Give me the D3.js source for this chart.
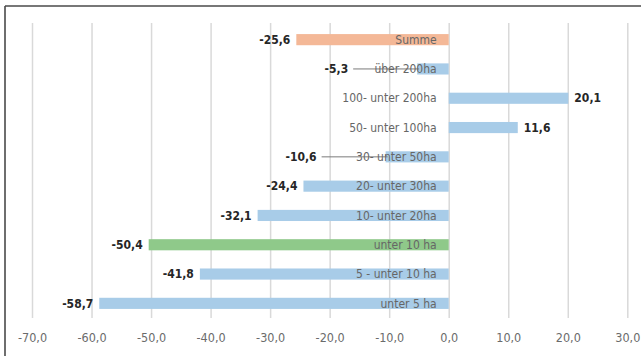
<!DOCTYPE html>
<html><head><meta charset="utf-8">
<script src="https://cdn.jsdelivr.net/npm/d3@7"></script>
<style>
html,body{margin:0;padding:0;background:#fff;}
svg{display:block;}
text{font-family:"DejaVu Sans Condensed","Liberation Sans",sans-serif;}
</style></head><body>
<svg id="c" width="641" height="356"></svg>
<script>
const categories = ["Summe","über 200ha","100- unter 200ha","50- unter 100ha","30- unter 50ha","20- unter 30ha","10- unter 20ha","unter 10 ha","5 - unter 10 ha","unter 5 ha"];
const values = [-25.6,-5.3,20.1,11.6,-10.6,-24.4,-32.1,-50.4,-41.8,-58.7];
const groups = ["sum","blue","blue","blue","blue","blue","blue","green","blue","blue"];
const tickValues = [-70,-60,-50,-40,-30,-20,-10,0,10,20,30];
const leaderCats = ["über 200ha","30- unter 50ha"];
const colors = {sum:"#f4b897", blue:"#a8cce8", green:"#8fc98a"};

const svg = d3.select("#c");
const fmt = v => d3.format(".1f")(v).replace("−","-").replace(".", ",");

const x = d3.scaleLinear().domain([-70,30]).range([32,627.3]);
const y = d3.scaleBand().domain(categories).range([25,318]).paddingInner(0.62).paddingOuter(0.31);

// frame
svg.append("line").attr("x1",5).attr("x2",641).attr("y1",6).attr("y2",6).attr("stroke","#4a4a4a").attr("stroke-width",1.6);
svg.append("line").attr("x1",5).attr("x2",5).attr("y1",6).attr("y2",356).attr("stroke","#4a4a4a").attr("stroke-width",1.6);

// grid
const axis = d3.axisBottom(x).tickValues(tickValues).tickSize(-(318-23)).tickPadding(15).tickFormat(fmt);
const ag = svg.append("g").attr("transform","translate(0,318)").call(axis);
ag.select(".domain").remove();
ag.selectAll(".tick line").attr("stroke","#d9d9d9").attr("stroke-width",1.5);
ag.selectAll(".tick text").attr("fill","#6b6b6b").attr("font-size",12.5).attr("font-family","'DejaVu Sans Condensed',sans-serif");

// bars
svg.selectAll("rect.bar").data(categories).join("rect")
  .attr("x",(d,i)=>x(Math.min(0,values[i])))
  .attr("width",(d,i)=>Math.abs(x(values[i])-x(0)))
  .attr("y",d=>y(d)).attr("height",y.bandwidth())
  .attr("fill",(d,i)=>colors[groups[i]]);

// leader lines
categories.forEach((c,i)=>{
  if(leaderCats.includes(c)){
    svg.append("line")
      .attr("x1",x(values[i])-64).attr("x2",x(values[i])+2)
      .attr("y1",y(c)+y.bandwidth()/2).attr("y2",y(c)+y.bandwidth()/2)
      .attr("stroke","#7a7a7a").attr("stroke-width",1);
  }
});

// category labels
svg.selectAll("text.cat").data(categories).join("text")
  .attr("x",x(0)-12).attr("y",d=>y(d)+y.bandwidth()/2+4.2)
  .attr("text-anchor","end").attr("font-size",12).attr("fill","#666")
  .text(d=>d);

// value labels
svg.selectAll("text.val").data(categories).join("text")
  .attr("x",(d,i)=>{
    const v=values[i];
    if(v>=0) return x(v)+6;
    return leaderCats.includes(d) ? x(v)-69 : x(v)-6;
  })
  .attr("y",d=>y(d)+y.bandwidth()/2+4.2)
  .attr("text-anchor",(d,i)=>values[i]>=0?"start":"end")
  .attr("font-size",12).attr("font-weight","bold").attr("fill","#262626")
  .text((d,i)=>fmt(values[i]));
</script>
</body></html>
